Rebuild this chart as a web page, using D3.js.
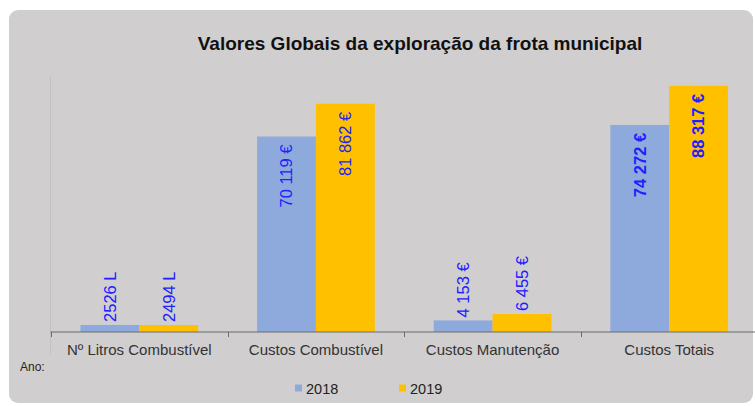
<!DOCTYPE html>
<html>
<head>
<meta charset="utf-8">
<script src="https://cdn.jsdelivr.net/npm/d3@7"></script>
<style>
  body { margin: 0; background: #fff; }
  svg { display: block; font-family: "Liberation Sans", Arial, sans-serif; }
</style>
</head>
<body>
<svg width="755" height="406"></svg>
<script>
var categories = ["Nº Litros Combustível", "Custos Combustível", "Custos Manutenção", "Custos Totais"];
var years = ["2018", "2019"];
var values2018 = [2526, 70119, 4153, 74272];
var values2019 = [2494, 81862, 6455, 88317];
var units = ["L", "€", "€", "€"];
var colors = ["#8eaadc", "#ffc000"];

var svg = d3.select("svg");

// gray panel
svg.append("rect")
  .attr("x", 9).attr("y", 10)
  .attr("width", 744).attr("height", 393)
  .attr("rx", 9)
  .attr("fill", "#d0cecf");

svg.append("text")
  .attr("x", 420).attr("y", 50)
  .attr("text-anchor", "middle")
  .attr("font-size", "19px")
  .attr("font-weight", "bold")
  .attr("fill", "#111")
  .text("Valores Globais da exploração da frota municipal");

var x = d3.scaleBand()
  .domain(categories)
  .range([51, 757.5]);

var xs = d3.scaleBand()
  .domain(years)
  .range([0, x.bandwidth()])
  .paddingOuter(0.5)
  .paddingInner(0);

var y = d3.scaleLinear()
  .domain([0, 92000])
  .range([332, 75.5]);

// faint vertical axis line
svg.append("line")
  .attr("x1", 50.5).attr("x2", 50.5)
  .attr("y1", 75.5).attr("y2", 354)
  .attr("stroke", "#c2c0c1");

var rows = categories.map(function(c, i) {
  return { cat: c, i: i, vals: [values2018[i], values2019[i]] };
});

function fmt(v, u) {
  if (u === "L") return v + " " + u;
  return d3.format(",")(v).replace(/,/g, " ") + " " + u;
}

var cat = svg.append("g").selectAll("g.cat")
  .data(rows)
  .enter().append("g")
  .attr("class", "cat")
  .attr("transform", function(d) { return "translate(" + x(d.cat) + ",0)"; });

function pairs(d) {
  return d.vals.map(function(v, k) { return { v: v, k: k, i: d.i }; });
}

cat.selectAll("rect")
  .data(pairs)
  .enter().append("rect")
  .attr("x", function(d) { return xs(years[d.k]); })
  .attr("width", xs.bandwidth())
  .attr("y", function(d) { return y(d.v); })
  .attr("height", function(d) { return y(0) - y(d.v); })
  .attr("fill", function(d) { return colors[d.k]; });

cat.selectAll("text.lbl")
  .data(pairs)
  .enter().append("text")
  .attr("class", "lbl")
  .attr("transform", function(d) {
    var cx = xs(years[d.k]) + xs.bandwidth() / 2;
    var big = d.v > 20000;
    var ty = big ? y(d.v) + 8 : y(d.v) - 3;
    return "translate(" + cx + "," + ty + ") rotate(-90)";
  })
  .attr("dy", "0.35em")
  .attr("text-anchor", function(d) { return d.v > 20000 ? "end" : "start"; })
  .attr("font-size", "16.5px")
  .attr("font-weight", function(d) { return d.i === 3 ? "bold" : "normal"; })
  .attr("fill", "#2020ff")
  .text(function(d) { return fmt(d.v, units[d.i]); });

// x axis
var xAxis = svg.append("g")
  .attr("transform", "translate(0,332)");
xAxis.append("line")
  .attr("x1", 50.5).attr("x2", 757)
  .attr("stroke", "#6b6b6b");
var ticks = categories.map(function(c) { return x(c); }).concat([x.range()[1]]);
xAxis.selectAll("line.tick")
  .data(ticks)
  .enter().append("line")
  .attr("class", "tick")
  .attr("x1", function(d) { return Math.round(d) + 0.5; })
  .attr("x2", function(d) { return Math.round(d) + 0.5; })
  .attr("y1", 0).attr("y2", 5)
  .attr("stroke", "#6b6b6b");
xAxis.selectAll("text")
  .data(categories)
  .enter().append("text")
  .attr("x", function(d) { return x(d) + x.bandwidth() / 2; })
  .attr("y", 23)
  .attr("text-anchor", "middle")
  .attr("font-size", "15px")
  .attr("fill", "#333")
  .text(function(d) { return d; });

svg.append("text")
  .attr("x", 20).attr("y", 371)
  .attr("font-size", "12px")
  .attr("fill", "#222")
  .text("Ano:");

// legend
var legX = [295, 399];
var leg = svg.selectAll("g.leg")
  .data(years)
  .enter().append("g")
  .attr("class", "leg")
  .attr("transform", function(d, i) { return "translate(" + legX[i] + ",388)"; });
leg.append("rect")
  .attr("x", 0).attr("y", -3.5)
  .attr("width", 7).attr("height", 7)
  .attr("fill", function(d, i) { return colors[i]; });
leg.append("text")
  .attr("x", 11).attr("y", 5.5)
  .attr("font-size", "14.5px")
  .attr("fill", "#222")
  .text(function(d) { return d; });
</script>
</body>
</html>
